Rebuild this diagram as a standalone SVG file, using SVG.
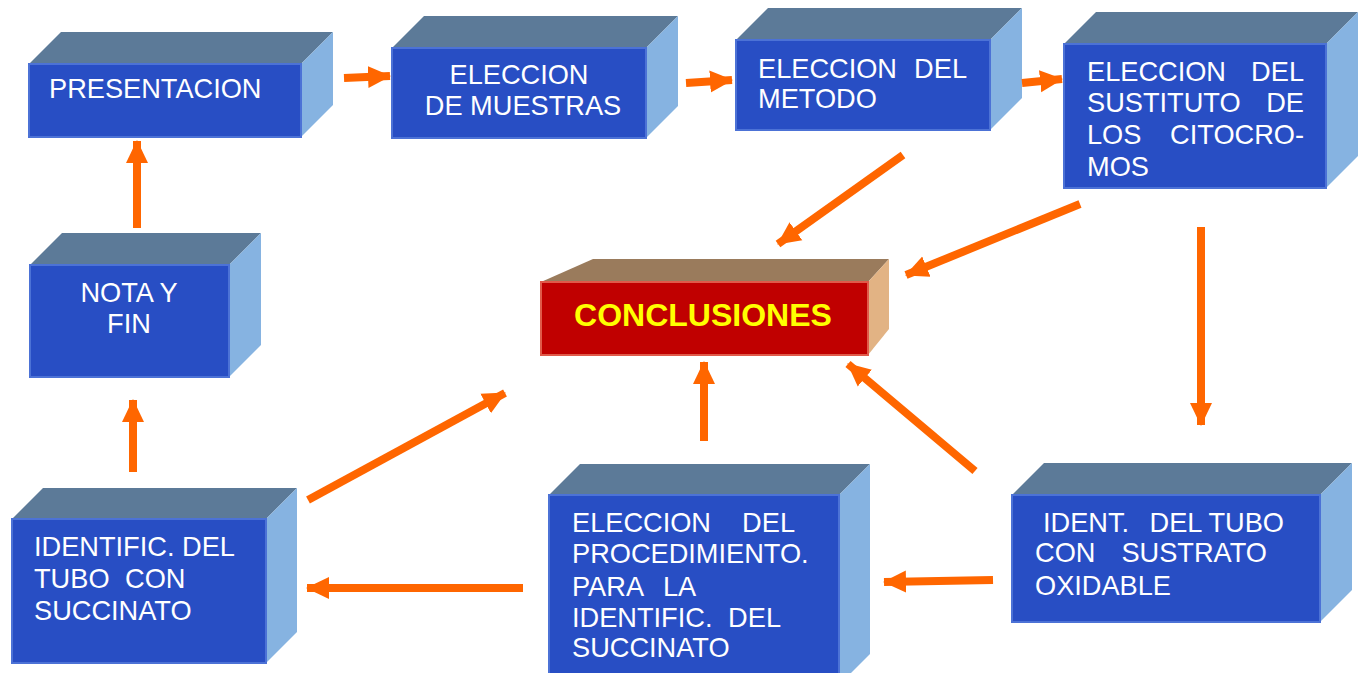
<svg xmlns="http://www.w3.org/2000/svg" width="1362" height="673" viewBox="0 0 1362 673">
<style>
.front{fill:#284EC4;stroke:#4C72D6;stroke-width:2}
.top{fill:#5C7A98}
.side{fill:#86B3E1}
.t{font-family:"Liberation Sans",Arial,sans-serif;font-size:27.2px;fill:#FFFFFF}
.c{fill:none;stroke:#FF6600;stroke-width:8;marker-end:url(#ah)}
</style>
<defs>
<marker id="ah" markerUnits="userSpaceOnUse" markerWidth="24" markerHeight="24" viewBox="0 0 24 24" refX="22" refY="12" orient="auto">
<path d="M0,1 L23,12 L0,23 Z" fill="#FF6600"/>
</marker>
</defs>
<rect width="1362" height="673" fill="#FFFFFF"/>

<g id="presentacion">
<polygon class="top" points="29,64 61,32 333,32 301,64"/>
<polygon class="side" points="301,64 333,32 333,105 301,137"/>
<rect class="front" x="29" y="64" width="272" height="73"/>
<text class="t" x="49" y="98">PRESENTACION</text>
</g>

<g id="muestras">
<polygon class="top" points="392,48 424,16 678,16 646,48"/>
<polygon class="side" points="646,48 678,16 678,106 646,138"/>
<rect class="front" x="392" y="48" width="254" height="90"/>
<text class="t" x="519" y="84" text-anchor="middle">ELECCION</text>
<text class="t" x="523" y="115" text-anchor="middle">DE MUESTRAS</text>
</g>

<g id="metodo">
<polygon class="top" points="736,40 768,8 1022,8 990,40"/>
<polygon class="side" points="990,40 1022,8 1022,98 990,130"/>
<rect class="front" x="736" y="40" width="254" height="90"/>
<text class="t" x="758" y="78">ELECCION</text>
<text class="t" x="967" y="78" text-anchor="end">DEL</text>
<text class="t" x="758" y="108">METODO</text>
</g>

<g id="sustituto">
<polygon class="top" points="1064,44 1096,12 1358,12 1326,44"/>
<polygon class="side" points="1326,44 1358,12 1358,156 1326,188"/>
<rect class="front" x="1064" y="44" width="262" height="144"/>
<text class="t" x="1087" y="81">ELECCION</text>
<text class="t" x="1304" y="81" text-anchor="end">DEL</text>
<text class="t" x="1087" y="112">SUSTITUTO</text>
<text class="t" x="1304" y="112" text-anchor="end">DE</text>
<text class="t" x="1087" y="144">LOS</text>
<text class="t" x="1304" y="144" text-anchor="end">CITOCRO-</text>
<text class="t" x="1087" y="176">MOS</text>
</g>

<g id="nota">
<polygon class="top" points="30,265 62,233 261,233 229,265"/>
<polygon class="side" points="229,265 261,233 261,345 229,377"/>
<rect class="front" x="30" y="265" width="199" height="112"/>
<text class="t" x="129" y="302" text-anchor="middle">NOTA Y</text>
<text class="t" x="129" y="333" text-anchor="middle">FIN</text>
</g>

<g id="conclusiones">
<polygon points="541,282 593,259 889,259 868,282" fill="#9A7B5C"/>
<polygon points="868,282 889,259 889,329 868,355" fill="#E2B384"/>
<rect x="541" y="282" width="327" height="73" fill="#C00000" stroke="#E05A4A" stroke-width="2"/>
<text x="703" y="326" text-anchor="middle" font-family="'Liberation Sans',Arial,sans-serif" font-size="32" font-weight="bold" fill="#FFFF00">CONCLUSIONES</text>
</g>

<g id="identific">
<polygon class="top" points="12,519 43,488 297,488 266,519"/>
<polygon class="side" points="266,519 297,488 297,632 266,663"/>
<rect class="front" x="12" y="519" width="254" height="144"/>
<text class="t" x="34" y="556">IDENTIFIC. DEL</text>
<text class="t" x="34" y="588">TUBO</text>
<text class="t" x="125" y="588">CON</text>
<text class="t" x="34" y="620">SUCCINATO</text>
</g>

<g id="procedimiento">
<polygon class="top" points="549,495 580,464 870,464 839,495"/>
<polygon class="side" points="839,495 870,464 870,654 839,685"/>
<rect class="front" x="549" y="495" width="290" height="190"/>
<text class="t" x="572" y="532">ELECCION</text>
<text class="t" x="795" y="532" text-anchor="end">DEL</text>
<text class="t" x="572" y="563">PROCEDIMIENTO.</text>
<text class="t" x="572" y="596">PARA</text>
<text class="t" x="663" y="596">LA</text>
<text class="t" x="572" y="627">IDENTIFIC.</text>
<text class="t" x="781" y="627" text-anchor="end">DEL</text>
<text class="t" x="572" y="657">SUCCINATO</text>
</g>

<g id="ident">
<polygon class="top" points="1012,495 1044,463 1352,463 1320,495"/>
<polygon class="side" points="1320,495 1352,463 1352,590 1320,622"/>
<rect class="front" x="1012" y="495" width="308" height="127"/>
<text class="t" x="1043" y="532">IDENT.</text>
<text class="t" x="1284" y="532" text-anchor="end">DEL TUBO</text>
<text class="t" x="1035" y="562">CON</text>
<text class="t" x="1267" y="562" text-anchor="end">SUSTRATO</text>
<text class="t" x="1035" y="595">OXIDABLE</text>
</g>

<g id="connectors">
<line class="c" x1="344" y1="78" x2="390" y2="76"/>
<line class="c" x1="686" y1="83" x2="732" y2="80"/>
<line class="c" x1="1022" y1="83" x2="1062" y2="79"/>
<line class="c" x1="903" y1="155" x2="778" y2="244"/>
<line class="c" x1="1080" y1="204" x2="906" y2="275"/>
<line class="c" x1="1201" y1="227" x2="1201" y2="425"/>
<line class="c" x1="975" y1="471" x2="848" y2="364"/>
<line class="c" x1="993" y1="580" x2="884" y2="582"/>
<line class="c" x1="704" y1="441" x2="704" y2="362"/>
<line class="c" x1="523" y1="588" x2="307" y2="588"/>
<line class="c" x1="308" y1="500" x2="505" y2="393"/>
<line class="c" x1="133" y1="472" x2="133" y2="400"/>
<line class="c" x1="137" y1="228" x2="137" y2="141"/>
</g>
</svg>
